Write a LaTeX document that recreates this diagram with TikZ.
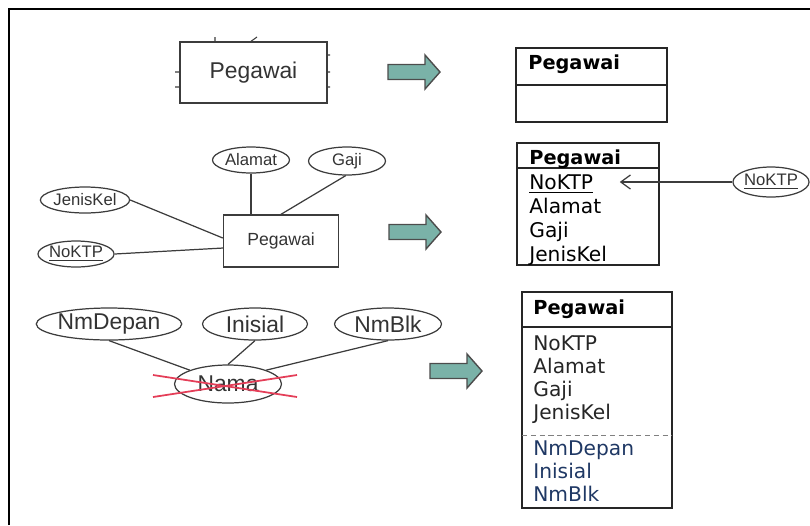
\documentclass[tikz,border=0pt]{standalone}
\usepackage{fontspec}
\newfontfamily\erfont{Liberation Sans}
\newfontfamily\tblfont{DejaVu Sans}
\usetikzlibrary{shapes.geometric,arrows.meta}
\definecolor{arrowteal}{RGB}{122,178,168}
\definecolor{crossred}{RGB}{228,62,88}
\definecolor{rownavy}{RGB}{31,56,100}
\definecolor{erline}{RGB}{60,60,60}
\begin{document}
\begin{tikzpicture}[x=0.02cm,y=-0.02cm]
        \tikzset{
          ent/.style={draw=erline, line width=0.8pt, inner sep=0pt, text=black!80, font=\erfont\fontsize{10}{12}\selectfont},
          attr/.style={ellipse, draw=erline, line width=0.7pt, inner sep=0pt, minimum height=0.52cm, text=black!80, font=\erfont\fontsize{9.5}{11}\selectfont},
          bigattr/.style={attr, minimum height=0.64cm, font=\erfont\fontsize{13}{15}\selectfont},
          link/.style={draw=erline, line width=0.7pt},
          tbl/.style={draw=black!85, line width=0.9pt},
          hdr/.style={anchor=west, inner sep=0pt, text height=8pt, text depth=0pt, font=\tblfont\bfseries\fontsize{11}{13}\selectfont},
          row/.style={anchor=west, inner sep=0pt, text height=8.3pt, text depth=0pt, font=\tblfont\fontsize{11.5}{13}\selectfont},
          blockarrow/.pic={\draw[fill=arrowteal, draw=black!70, line width=0.8pt] (0,-7.5) -- (37,-7.5) -- (37,-17) -- (52,0) -- (37,17) -- (37,7.5) -- (0,7.5) -- cycle;}
        }
        \useasboundingbox (0,0) rectangle (810,525);
        \draw[line width=1.3pt] (9,525) -- (9,9) -- (810,9);

        % entity alone
        \node[ent, minimum width=2.94cm, minimum height=1.22cm, font=\erfont\fontsize{13}{15}\selectfont] (peg1) at (253.5,72.5) {Pegawai};
        \draw[erline, line width=0.6pt] (215,37) -- (215,42) (250,42) -- (257,37)
            (175,72) -- (180,72) (175,87) -- (180,87)
            (327,55) -- (330,55) (327,72) -- (330,72) (327,87) -- (330,87);
        \pic at (388,72) {blockarrow};
        \draw[tbl] (516,48) rectangle (667,122);
        \draw[tbl] (516,85) -- (667,85);
        \node[hdr] (t1h) at (528,62) {Pegawai};

        % entity with attributes
        \node[ent, minimum width=2.3cm, minimum height=1.04cm] (peg2) at (281,241) {Pegawai};
        \node[attr, minimum width=1.54cm] (alamat) at (251,160) {Alamat};
        \node[attr, minimum width=1.54cm, minimum height=0.56cm] (gaji) at (347,161) {Gaji};
        \node[attr, minimum width=1.6cm] (jk) at (85,200) {JenisKel};
        \node[attr, minimum width=1.48cm] (ktp) at (76,254) {\underline{NoKTP}};
        \draw[link] (alamat.south) -- (alamat.south |- peg2.north);
        \draw[link] (gaji.265) -- (peg2.north);
        \draw[link] (jk.east) -- ([yshift=1.7pt]peg2.west);
        \draw[link] (ktp.east) -- ([yshift=-4pt]peg2.west);
        \pic at (389,232) {blockarrow};
        \draw[tbl] (517,143) rectangle (659,265);
        \draw[tbl] (517,168) -- (659,168);
        \node[hdr] (t2h) at (529,157) {Pegawai};
        \foreach \f [count=\i] in {\underline{NoKTP},Alamat,Gaji,JenisKel}
          \node[row] (t2r\i) at (529,158+24*\i) {\f};
        \node[attr, minimum width=1.52cm, minimum height=0.6cm] (ktp2) at (771,182) {\underline{NoKTP}};
        \draw[link, -{Straight Barb[length=5.5pt,width=8pt]}] (ktp2.west) -- ([xshift=15pt]t2r1.east);

        % composite attribute
        \node[bigattr, minimum width=2.64cm] (nmdepan) at (109,324) {NmDepan};
        \node[bigattr, minimum width=2.1cm] (inisial) at (255,324) {Inisial};
        \node[bigattr, minimum width=2.14cm] (nmblk) at (388,324) {NmBlk};
        \node[bigattr, minimum width=2.14cm, minimum height=0.76cm] (nama) at (228,384) {Nama};
        \draw[link] (nmdepan.south) -- (nama.north west);
        \draw[link] (inisial.south) -- (nama.north);
        \draw[link] (nmblk.south) -- (nama.north east);
        \draw[crossred, line width=1pt] (153,375) -- (297,397);
        \draw[crossred, line width=1pt] (153,397) -- (297,375);
        \pic at (430,371) {blockarrow};
        \draw[tbl] (522,292) rectangle (672,508);
        \draw[tbl] (522,327) -- (672,327);
        \draw[gray, densely dashed, line width=0.5pt] (522,435) -- (672,435);
        \node[hdr] (t3h) at (533,307) {Pegawai};
        \foreach \f [count=\i] in {NoKTP,Alamat,Gaji,JenisKel}
          \node[row, text=black!85] (t3r\i) at (533,320+23*\i) {\f};
        \foreach \f [count=\i] in {NmDepan,Inisial,NmBlk}
          \node[row, text=rownavy] (t3s\i) at (533,425+23*\i) {\f};
    \end{tikzpicture}
\end{document}
